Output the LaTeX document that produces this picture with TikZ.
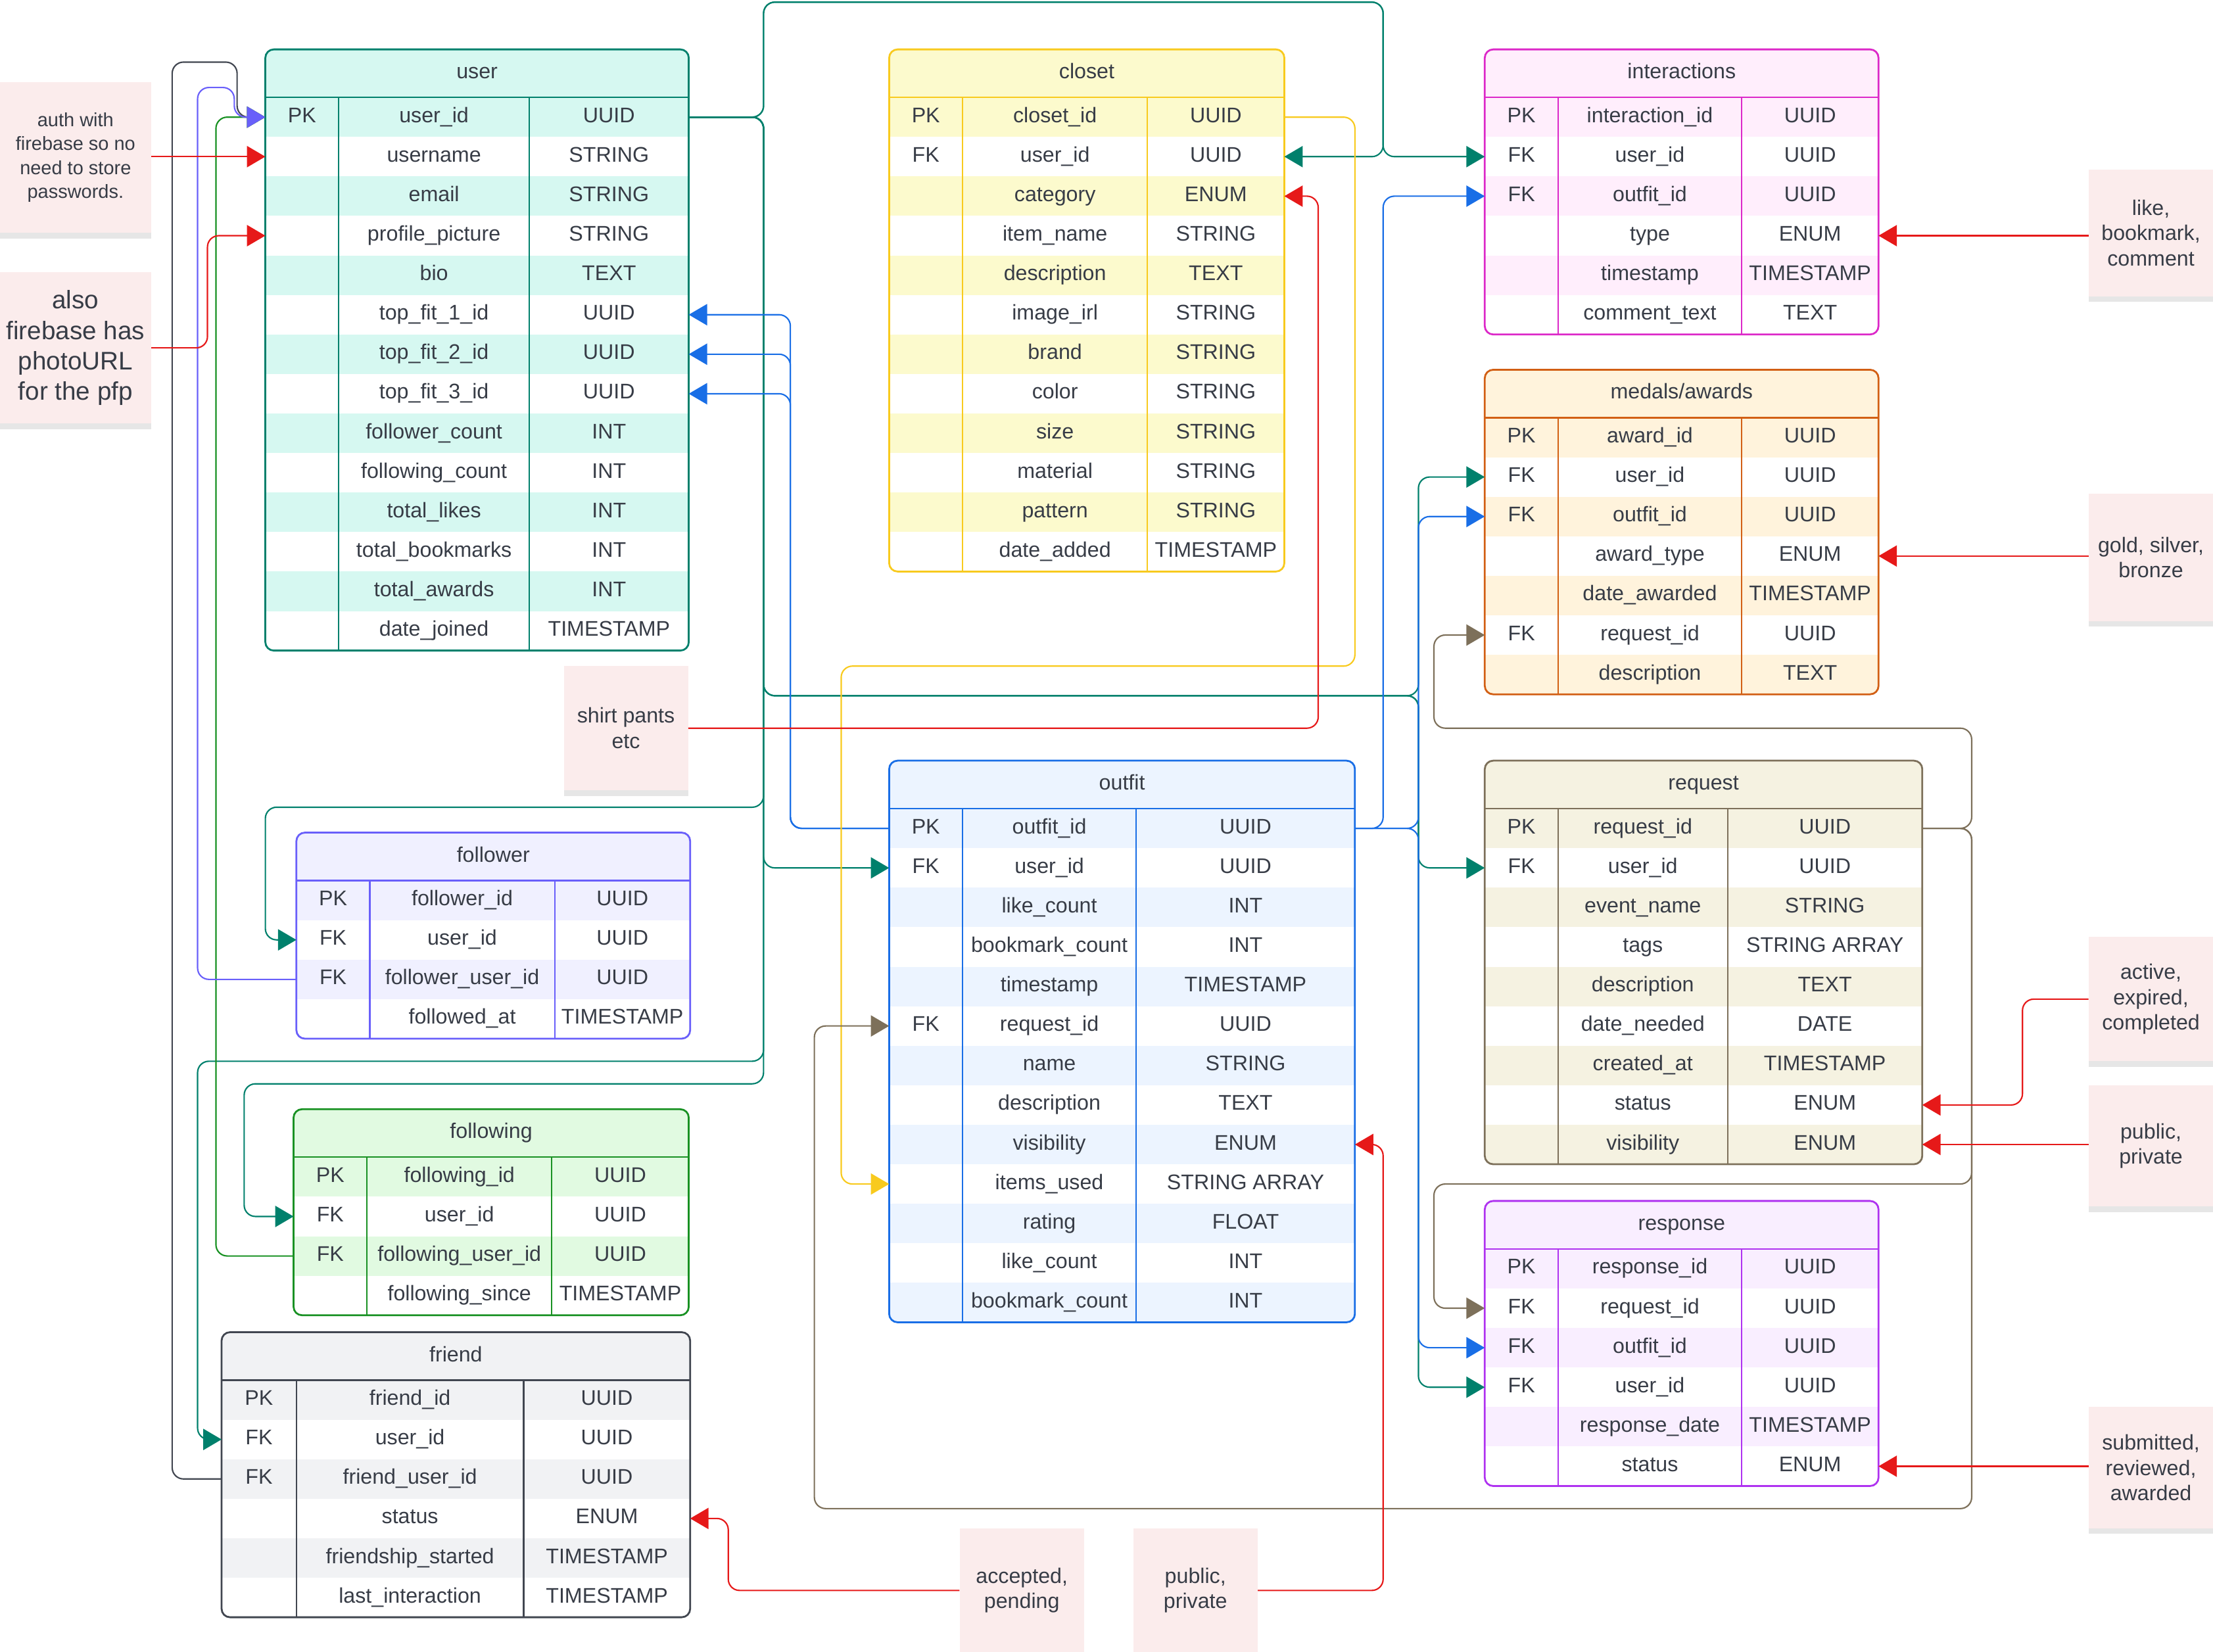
\documentclass[tikz,border=0pt]{standalone}
\usepackage{fontspec}
\setmainfont{Liberation Sans}
\usepackage{tikz}
\usetikzlibrary{arrows.meta,shadows}

\definecolor{textc}{RGB}{55,60,70}
\definecolor{usrline}{RGB}{0,128,108}
\definecolor{usrfill}{RGB}{214,248,241}
\definecolor{clsline}{RGB}{248,202,30}
\definecolor{clsfill}{RGB}{252,250,205}
\definecolor{intline}{RGB}{220,40,200}
\definecolor{intfill}{RGB}{255,238,252}
\definecolor{medline}{RGB}{210,95,20}
\definecolor{medfill}{RGB}{255,243,220}
\definecolor{folline}{RGB}{105,95,250}
\definecolor{folfill}{RGB}{240,240,255}
\definecolor{fgline}{RGB}{25,145,35}
\definecolor{fgfill}{RGB}{225,250,225}
\definecolor{frline}{RGB}{65,70,80}
\definecolor{frfill}{RGB}{241,242,244}
\definecolor{outline}{RGB}{25,110,230}
\definecolor{outfill}{RGB}{236,244,255}
\definecolor{reqline}{RGB}{125,112,90}
\definecolor{reqfill}{RGB}{245,242,225}
\definecolor{resline}{RGB}{175,50,240}
\definecolor{resfill}{RGB}{249,238,255}
\definecolor{notefill}{RGB}{251,236,236}
\definecolor{redc}{RGB}{230,25,25}

\newcommand{\erTable}[9]{%
  \pgfmathsetmacro{\erhy}{#6+34}
  \foreach \colk/\coln/\colt [count=\i] in {#9} {\xdef\ernrows{\i}}
  \pgfmathsetmacro{\erby}{#6+34+28*\ernrows}
  \begin{scope}
    \clip[rounded corners=6] (#2,#6) rectangle (#5,\erby);
    \fill[#7fill] (#2,#6) rectangle (#5,\erhy);
    \foreach \colk/\coln/\colt [count=\i] in {#9} {
      \pgfmathsetmacro{\erra}{\erhy+28*(\i-1)}
      \ifodd\i\relax \fill[#7fill] (#2,\erra) rectangle (#5,\erra+28); \fi
    }
  \end{scope}
  \draw[#7line, line width=1pt] (#2,\erhy) -- (#5,\erhy) (#3,\erhy) -- (#3,\erby) (#4,\erhy) -- (#4,\erby);
  \draw[#7line, line width=1.3pt, rounded corners=6] (#2,#6) rectangle (#5,\erby);
  \node[cell] (#1) at ({(#2+#5)/2},{#6+17}) {#8};
  \foreach \colk/\coln/\colt [count=\i] in {#9} {
    \pgfmathsetmacro{\eryc}{\erhy+28*\i-14}
    \node[cell] at ({(#2+#3)/2},\eryc) {\colk};
    \node[cell] (#1-\i-n) at ({(#3+#4)/2},\eryc) {\coln};
    \node[cell] at ({(#4+#5)/2},\eryc) {\colt};
    \coordinate (#1-\i-w) at (#2,\eryc);
    \coordinate (#1-\i-e) at (#5,\eryc);
  }
}

\tikzset{
  every node/.style={font=\fontsize{15}{18}\selectfont, text=textc, inner sep=0pt},
  cell/.style={text height=11pt, text depth=3.5pt},
  link/.style={line width=1pt, rounded corners=8},
  fk/.style={link, -{Triangle[length=13pt,width=15pt]}},
  note/.style={fill=notefill, align=center, minimum width=88, minimum height=88,
    drop shadow={shadow xshift=0pt, shadow yshift=-4pt, opacity=0.2}}
}

\begin{document}
\begin{tikzpicture}[x=1pt,y=-1pt]
\useasboundingbox (0,0) rectangle (1568,1170.6);

\erTable{user}{188}{240}{375}{488}{35}{usr}{user}{PK/user\_id/UUID, /username/STRING, /email/STRING, /profile\_picture/STRING, /bio/TEXT, /top\_fit\_1\_id/UUID, /top\_fit\_2\_id/UUID, /top\_fit\_3\_id/UUID, /follower\_count/INT, /following\_count/INT, /total\_likes/INT, /total\_bookmarks/INT, /total\_awards/INT, /date\_joined/TIMESTAMP}
\erTable{closet}{630}{682}{813}{910}{35}{cls}{closet}{PK/closet\_id/UUID, FK/user\_id/UUID, /category/ENUM, /item\_name/STRING, /description/TEXT, /image\_irl/STRING, /brand/STRING, /color/STRING, /size/STRING, /material/STRING, /pattern/STRING, /date\_added/TIMESTAMP}
\erTable{inter}{1052}{1104}{1234}{1331}{35}{int}{interactions}{PK/interaction\_id/UUID, FK/user\_id/UUID, FK/outfit\_id/UUID, /type/ENUM, /timestamp/TIMESTAMP, /comment\_text/TEXT}
\erTable{medals}{1052}{1104}{1234}{1331}{262}{med}{medals/awards}{PK/award\_id/UUID, FK/user\_id/UUID, FK/outfit\_id/UUID, /award\_type/ENUM, /date\_awarded/TIMESTAMP, FK/request\_id/UUID, /description/TEXT}
\erTable{follower}{210}{262}{393}{489}{590}{fol}{follower}{PK/follower\_id/UUID, FK/user\_id/UUID, FK/follower\_user\_id/UUID, /followed\_at/TIMESTAMP}
\erTable{following}{208}{260}{391}{488}{786}{fg}{following}{PK/following\_id/UUID, FK/user\_id/UUID, FK/following\_user\_id/UUID, /following\_since/TIMESTAMP}
\erTable{friend}{157}{210}{371}{489}{944}{fr}{friend}{PK/friend\_id/UUID, FK/user\_id/UUID, FK/friend\_user\_id/UUID, /status/ENUM, /friendship\_started/TIMESTAMP, /last\_interaction/TIMESTAMP}
\erTable{outfit}{630}{682}{805}{960}{539}{out}{outfit}{PK/outfit\_id/UUID, FK/user\_id/UUID, /like\_count/INT, /bookmark\_count/INT, /timestamp/TIMESTAMP, FK/request\_id/UUID, /name/STRING, /description/TEXT, /visibility/ENUM, /items\_used/STRING ARRAY, /rating/FLOAT, /like\_count/INT, /bookmark\_count/INT}
\erTable{request}{1052}{1104}{1224}{1362}{539}{req}{request}{PK/request\_id/UUID, FK/user\_id/UUID, /event\_name/STRING, /tags/STRING ARRAY, /description/TEXT, /date\_needed/DATE, /created\_at/TIMESTAMP, /status/ENUM, /visibility/ENUM}
\erTable{response}{1052}{1104}{1234}{1331}{851}{res}{response}{PK/response\_id/UUID, FK/request\_id/UUID, FK/outfit\_id/UUID, FK/user\_id/UUID, /response\_date/TIMESTAMP, /status/ENUM}

\node[note, minimum width=107, minimum height=107, font=\fontsize{13.5}{17}\selectfont] (authnote) at (53.5,111.5) {auth with\\firebase so no\\need to store\\passwords.};
\node[note, minimum width=107, minimum height=107, font=\fontsize{18}{21.5}\selectfont] (pfpnote) at (53.5,246.5) {also\\firebase has\\photoURL\\for the pfp};
\node[note] (catnote) at (443.5,516) {shirt pants\\etc};
\node[note, minimum height=90] (typenote) at (1524,165) {like,\\bookmark,\\comment};
\node[note, minimum height=90] (awardnote) at (1524,395) {gold, silver,\\bronze};
\node[note] (reqstatnote) at (1524,708) {active,\\expired,\\completed};
\node[note, minimum height=86] (reqvisnote) at (1524,812) {public,\\private};
\node[note, minimum height=86] (resstatnote) at (1524,1040) {submitted,\\reviewed,\\awarded};
\node[note] (frstatnote) at (724,1127) {accepted,\\pending};
\node[note] (outvisnote) at (847,1127) {public,\\private};

\draw[fk, usrline] (user-1-e) -| (541,1.5) -| (980,111) -- (closet-2-e);
\draw[fk, usrline] (user-1-e) -| (541,1.5) -| (980,111) -- (inter-2-w);
\draw[fk, usrline] (user-1-e) -| (541,572) -| (188,666) -- (follower-2-w);
\draw[fk, usrline] (user-1-e) -| (541,768) -| (173,862) -- (following-2-w);
\draw[fk, usrline] (user-1-e) -| (541,752) -| (140,1020) -- (friend-2-w);
\draw[fk, usrline] (user-1-e) -| (541,615) -- (outfit-2-w);
\draw[fk, usrline] (user-1-e) -| (541,493) -| (1005,338) -- (medals-2-w);
\draw[fk, usrline] (user-1-e) -| (541,493) -| (1005,615) -- (request-2-w);
\draw[fk, usrline] (user-1-e) -| (541,493) -| (1005,983) -- (response-4-w);

\draw[fk, outline] (outfit-1-w) -| (560,223) -- (user-6-e);
\draw[fk, outline] (outfit-1-w) -| (560,251) -- (user-7-e);
\draw[fk, outline] (outfit-1-w) -| (560,279) -- (user-8-e);
\draw[fk, outline] (outfit-1-e) -| (980,139) -- (inter-3-w);
\draw[fk, outline] (outfit-1-e) -| (1005,366) -- (medals-3-w);
\draw[fk, outline] (outfit-1-e) -| (1005,955) -- (response-3-w);

\draw[fk, clsline] (closet-1-e) -| (960,472) -| (596,839) -- (outfit-10-w);

\draw[fk, reqline] (request-1-e) -| (1397,516) -| (1016,450) -- (medals-6-w);
\draw[fk, reqline] (request-1-e) -| (1397,839) -| (1016,927) -- (response-2-w);
\draw[fk, reqline] (request-1-e) -| (1397,1069) -| (577,727) -- (outfit-6-w);

\draw[fk, frline] (friend-3-w) -| (122,44) -| (168,83) -- (user-1-w);
\draw[fk, fgline] (following-3-w) -| (153,83) -- (user-1-w);
\draw[fk, folline] (follower-3-w) -| (140,62) -| (166,83) -- (user-1-w);

\draw[fk, redc] (user-2-w -| authnote.east) -- (user-2-w);
\draw[fk, redc] (pfpnote.east) -| (147,167) -- (user-4-w);
\draw[fk, redc] (catnote.east) -| (934,139) -- (closet-3-e);
\draw[fk, redc] (inter-4-e -| typenote.west) -- (inter-4-e);
\draw[fk, redc] (medals-4-e -| awardnote.west) -- (medals-4-e);
\draw[fk, redc] (reqstatnote.west) -| (1433,783) -- (request-8-e);
\draw[fk, redc] (request-9-e -| reqvisnote.west) -- (request-9-e);
\draw[fk, redc] (response-6-e -| resstatnote.west) -- (response-6-e);
\draw[fk, redc] (frstatnote.west) -| (516,1076) -- (friend-4-e);
\draw[fk, redc] (outvisnote.east) -| (980,811) -- (outfit-9-e);
\end{tikzpicture}
\end{document}
